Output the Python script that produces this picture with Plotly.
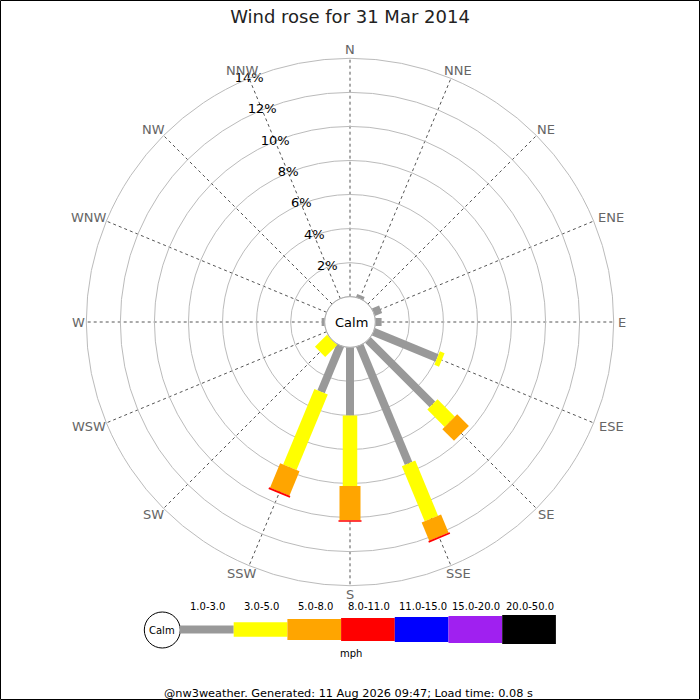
import math
import plotly.graph_objects as go

# wind rose for 31 Mar 2014, % of time per direction and speed bin
directions = ["N", "NNE", "NE", "ENE", "E", "ESE", "SE", "SSE",
              "S", "SSW", "SW", "WSW", "W", "WNW", "NW", "NNW"]
speed_bins = ["1.0-3.0", "3.0-5.0", "5.0-8.0", "8.0-11.0",
              "11.0-15.0", "15.0-20.0", "20.0-50.0"]

pct_1_3 = [0, 0.2, 0, 0.46, 0.37, 4.05, 5.36, 7.5, 4.0, 2.95, 0, 0, 0.18, 0, 0, 0]
pct_3_5 = [0, 0, 0, 0, 0, 0.3, 1.44, 3.5, 4.15, 4.8, 1.0, 0, 0, 0, 0, 0]
pct_5_8 = [0, 0, 0, 0, 0, 0, 0.97, 1.16, 2.0, 1.55, 0, 0, 0, 0, 0, 0]
pct_8_11 = [0, 0, 0, 0, 0, 0, 0, 0.1, 0.1, 0.1, 0, 0, 0, 0, 0, 0]
pct_11_15 = [0] * 16
pct_15_20 = [0] * 16
pct_20_50 = [0] * 16

radial_ticks = [2, 4, 6, 8, 10, 12, 14]

series = [pct_1_3, pct_3_5, pct_5_8, pct_8_11, pct_11_15, pct_15_20, pct_20_50]
colours = ["#999999", "#ffff00", "#ffa500", "#ff0000", "#0000ff", "#a020f0", "#000000"]
bar_px = [8, 14.5, 21, 23, 25, 27, 29]

angles = [i * 22.5 for i in range(16)]

cx, cy = 350, 322
R = 263.7
hole_px = 25.3
rmax = 14

fig = go.Figure()

# stacked bars drawn as thick radial lines
base = [0.0] * 16
for vals, col, w in zip(series, colours, bar_px):
    for i, v in enumerate(vals):
        if v <= 0:
            continue
        fig.add_trace(go.Scatterpolar(
            r=[base[i], base[i] + v], theta=[angles[i], angles[i]],
            mode="lines", line=dict(color=col, width=w),
            showlegend=False, hoverinfo="skip"))
        base[i] += v

# % labels along the NNW spoke
fig.add_trace(go.Scatterpolar(
    r=radial_ticks, theta=[337.5] * len(radial_ticks),
    mode="text", text=[f"{t}%" for t in radial_ticks],
    textfont=dict(family="DejaVu Sans", size=13, color="#000000"),
    showlegend=False, hoverinfo="skip"))

fig.update_layout(
    width=700, height=700, autosize=False,
    margin=dict(l=0, r=0, t=0, b=0),
    paper_bgcolor="white",
    font=dict(family="DejaVu Sans"),
    title=dict(text="Wind rose for 31 Mar 2014", x=0.5, xanchor="center",
               y=1 - 17 / 700, yanchor="middle",
               font=dict(size=18, color="#222222")),
    polar=dict(
        domain=dict(x=[(cx - R) / 700, (cx + R) / 700],
                    y=[1 - (cy + R) / 700, 1 - (cy - R) / 700]),
        hole=hole_px / R,
        bgcolor="white",
        radialaxis=dict(range=[0, rmax], tickvals=radial_ticks, showticklabels=False,
                        ticks="", showline=False, gridcolor="#bbbbbb", gridwidth=1),
        angularaxis=dict(rotation=90, direction="clockwise", tickmode="array",
                         tickvals=angles, showticklabels=False, ticks="",
                         showline=True, linecolor="#bbbbbb", linewidth=1,
                         gridcolor="#555555", griddash="dot", gridwidth=1),
    ),
)

shapes = []
annotations = []


def label(text, x, y, size, colour="#000000"):
    annotations.append(dict(text=text, x=x / 700, y=1 - y / 700, xref="paper", yref="paper",
                            xanchor="center", yanchor="middle", showarrow=False,
                            font=dict(size=size, color=colour)))


# compass labels just outside the outer ring, pushed out by half their box
for d, a in zip(directions, angles):
    s, c = math.sin(math.radians(a)), math.cos(math.radians(a))
    rr = R + 3
    label(d, cx + rr * s + 5.3 * len(d) * s, cy - rr * c - 6 * c, 13, "#666666")

# calm circle in the middle
shapes.append(dict(type="circle", xref="paper", yref="paper",
                   x0=(cx - hole_px) / 700, x1=(cx + hole_px) / 700,
                   y0=1 - (cy + hole_px) / 700, y1=1 - (cy - hole_px) / 700,
                   fillcolor="white", line=dict(color="#aaaaaa", width=1)))
label("Calm", cx + 1, cy, 13)

# speed legend
ly = 629.5
lx0 = 180
seg = 53.7
shapes.append(dict(type="circle", xref="paper", yref="paper",
                   x0=(162.3 - 18) / 700, x1=(162.3 + 18) / 700,
                   y0=1 - (630 + 18) / 700, y1=1 - (630 - 18) / 700,
                   fillcolor="white", line=dict(color="#000000", width=1)))
label("Calm", 162.3, 630, 10)
for k, (lab, col, w) in enumerate(zip(speed_bins, colours, bar_px)):
    x0 = lx0 + k * seg
    shapes.append(dict(type="rect", xref="paper", yref="paper",
                       x0=x0 / 700, x1=(x0 + seg) / 700,
                       y0=1 - (ly + w / 2) / 700, y1=1 - (ly - w / 2) / 700,
                       fillcolor=col, line=dict(width=0)))
    label(lab, x0 + seg / 2 + 1, 606.7, 10)
label("mph", 350.7, 653.3, 10)
label("@nw3weather. Generated: 11 Aug 2026 09:47; Load time: 0.08 s", 348, 693, 11.3)

# frame round the picture
shapes.append(dict(type="rect", xref="paper", yref="paper", x0=0.5 / 700, x1=699.5 / 700,
                   y0=0.5 / 700, y1=699.5 / 700, line=dict(color="#000000", width=1)))

fig.update_layout(shapes=shapes, annotations=annotations)

fig.write_html("out.html", config={"displayModeBar": False},
               post_script="document.body.style.margin='0';")
